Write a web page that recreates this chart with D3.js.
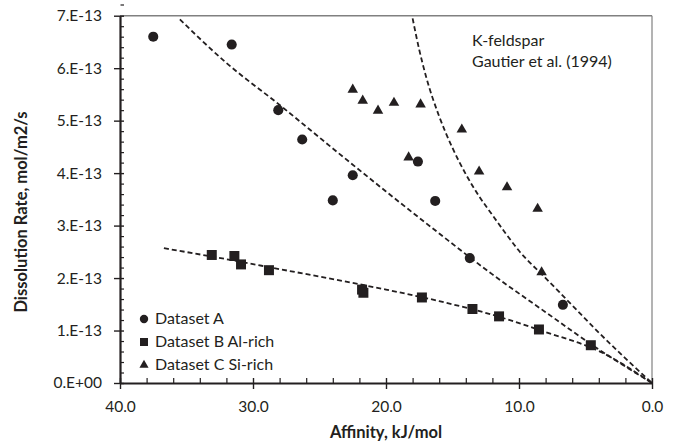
<!DOCTYPE html>
<html>
<head>
<meta charset="utf-8">
<script src="https://cdn.jsdelivr.net/npm/d3@7"></script>
<style>
  body { margin: 0; background: #fff; }
  svg { font-family: Lato, "Liberation Sans", sans-serif; }
</style>
</head>
<body>
<div id="plot"></div>
<script>
var w = 677,
    h = 447;

// Dataset A (circles)
var affA  = [37.5, 31.6, 28.1, 26.3, 24.0, 22.5, 17.6, 16.3, 13.7, 6.7];
var rateA = [6.60, 6.45, 5.20, 4.64, 3.48, 3.96, 4.22, 3.47, 2.38, 1.49];
// Dataset B Al-rich (squares)
var affB  = [33.1, 31.4, 30.9, 28.8, 21.8, 21.7, 17.3, 13.5, 11.5, 8.5, 4.6];
var rateB = [2.44, 2.42, 2.26, 2.15, 1.78, 1.72, 1.63, 1.41, 1.27, 1.02, 0.72];
// Dataset C Si-rich (triangles)
var affC  = [22.5, 21.75, 20.6, 19.4, 17.4, 14.3, 18.3, 13.0, 10.9, 8.6, 8.3];
var rateC = [5.59, 5.38, 5.19, 5.34, 5.31, 4.83, 4.30, 4.03, 3.73, 3.32, 2.11];

// fitted curves (dashed)
var fitAx = [35.5, 32, 28, 24, 20, 16, 12, 8, 4, 0];
var fitAy = [6.93, 6.10, 5.30, 4.47, 3.65, 2.85, 2.07, 1.35, 0.64, 0];
var fitBx = [36.7, 32, 28, 24, 20, 16, 12, 8, 4, 0];
var fitBy = [2.57, 2.36, 2.17, 1.98, 1.78, 1.56, 1.30, 0.97, 0.61, 0];
var fitCx = [18, 17.5, 17, 16, 15, 14, 13, 12, 11, 10, 8, 6, 4, 2, 0];
var fitCy = [6.95, 6.35, 5.85, 5.08, 4.48, 3.98, 3.56, 3.2, 2.85, 2.52, 2.0, 1.48, 0.96, 0.47, 0];

var unit = 1e-13;   // rates above are in units of 1e-13 mol/m2/s
var xTicks = [40, 30, 20, 10, 0];
var yTicks = [0, 1, 2, 3, 4, 5, 6, 7];
var legendLabels = ['Dataset A', 'Dataset B Al-rich', 'Dataset C Si-rich'];
var noteLines = ['K-feldspar', 'Gautier et al. (1994)'];

var ink = '#231f20';

var svg = d3.select('#plot').append('svg')
    .attr('width', w)
    .attr('height', h);

var x = d3.scaleLinear().domain([40, 0]).range([120, 652]);
var y = d3.scaleLinear().domain([0, 7 * unit]).range([383, 15.7]);

function zipPts(xs, ys) {
    return xs.map(function(d, i) { return {a: d, r: ys[i] * unit}; });
}

// top and right frame (gray)
svg.append('line')
    .attr('x1', x(40)).attr('x2', x(0))
    .attr('y1', y(7 * unit)).attr('y2', y(7 * unit))
    .style('stroke', '#808080').style('stroke-width', 1.6);
svg.append('line')
    .attr('x1', x(0)).attr('x2', x(0))
    .attr('y1', y(7 * unit)).attr('y2', y(0))
    .style('stroke', '#808080').style('stroke-width', 1.2);

// minor ticks
var yMinor = d3.range(0, 7.01, 0.2).filter(function(d) { return Math.abs(d - Math.round(d)) > 0.01; });
var xMinor = d3.range(0, 40.01, 2).filter(function(d) { return d % 10 !== 0; });

svg.append('g')
    .attr('transform', 'translate(' + x(40) + ',0)')
    .call(d3.axisLeft(y).tickValues(yMinor.map(function(d) { return d * unit; }))
        .tickSize(-4).tickSizeOuter(0).tickFormat(''))
    .call(function(g) { g.select('.domain').remove(); })
    .selectAll('line').style('stroke', ink).style('stroke-width', 1.2);

svg.append('g')
    .attr('transform', 'translate(0,' + y(0) + ')')
    .call(d3.axisBottom(x).tickValues(xMinor)
        .tickSize(-5).tickSizeOuter(0).tickFormat(''))
    .call(function(g) { g.select('.domain').remove(); })
    .selectAll('line').style('stroke', ink).style('stroke-width', 1.2);

// major axes
var yAxis = svg.append('g')
    .attr('transform', 'translate(' + x(40) + ',0)')
    .call(d3.axisLeft(y)
        .tickValues(yTicks.map(function(d) { return d * unit; }))
        .tickSize(6).tickSizeOuter(0).tickPadding(12)
        .tickFormat(function(d) {
            var v = Math.round(d / unit);
            return v === 0 ? '0.E+00' : v + '.E-13';
        }));
yAxis.selectAll('.tick line').attr('x1', 4);

var xAxis = svg.append('g')
    .attr('transform', 'translate(0,' + y(0) + ')')
    .call(d3.axisBottom(x)
        .tickValues(xTicks)
        .tickSize(6).tickSizeOuter(0).tickPadding(12)
        .tickFormat(d3.format('.1f')));
xAxis.selectAll('.tick line').attr('y1', -5);

[yAxis, xAxis].forEach(function(g) {
    g.select('.domain').style('stroke', ink).style('stroke-width', 2.2);
    g.selectAll('.tick line').style('stroke', ink).style('stroke-width', 1.4);
    g.selectAll('.tick text')
        .style('font-size', '15.5px')
        .style('font-family', 'Lato, sans-serif')
        .style('fill', '#231f20');
});

// stray dash mark above the axis
svg.append('line')
    .attr('x1', 120.5).attr('x2', 124)
    .attr('y1', 5).attr('y2', 5)
    .style('stroke', ink)
    .style('stroke-width', 1.2);

// axis titles
svg.append('text')
    .attr('x', (x(40) + x(0)) / 2)
    .attr('y', 438)
    .attr('text-anchor', 'middle')
    .style('font-size', '16.5px')
    .style('font-weight', 'bold')
    .style('fill', ink)
    .text('Affinity, kJ/mol');

svg.append('text')
    .attr('transform', 'translate(27,212) rotate(-90)')
    .attr('text-anchor', 'middle')
    .style('font-size', '16.5px')
    .style('font-weight', 'bold')
    .style('fill', ink)
    .text('Dissolution Rate, mol/m2/s');

// dashed fit curves
var line = d3.line()
    .x(function(d) { return x(d.a); })
    .y(function(d) { return y(d.r); })
    .curve(d3.curveMonotoneX);

[[fitAx, fitAy], [fitBx, fitBy], [fitCx, fitCy]].forEach(function(f) {
    svg.append('path')
        .datum(zipPts(f[0], f[1]))
        .attr('d', line)
        .style('fill', 'none')
        .style('stroke', ink)
        .style('stroke-width', 1.8)
        .style('stroke-dasharray', '5,3');
});

// markers
var circ = d3.symbol().type(d3.symbolCircle).size(80);
var sq = d3.symbol().type(d3.symbolSquare).size(100);
var tri = d3.symbol().type(d3.symbolTriangle).size(48);

function drawSet(pts, sym) {
    svg.append('g').selectAll('path')
        .data(pts)
        .enter()
        .append('path')
        .attr('transform', function(d) { return 'translate(' + x(d.a) + ',' + y(d.r) + ')'; })
        .attr('d', sym)
        .style('fill', ink);
}
drawSet(zipPts(affA, rateA), circ);
drawSet(zipPts(affB, rateB), sq);
drawSet(zipPts(affC, rateC), tri);

// legend
var legSyms = [
    d3.symbol().type(d3.symbolCircle).size(55),
    d3.symbol().type(d3.symbolSquare).size(64),
    d3.symbol().type(d3.symbolTriangle).size(36)
];
var leg = svg.append('g').attr('class', 'legend');
legendLabels.forEach(function(lab, i) {
    var yy = 324 + i * 23;
    leg.append('path')
        .attr('transform', 'translate(144,' + (yy - 5) + ')')
        .attr('d', legSyms[i])
        .style('fill', ink);
    leg.append('text')
        .attr('x', 155).attr('y', yy)
        .style('font-size', '16px')
        .style('fill', ink)
        .text(lab);
});

// note
noteLines.forEach(function(t, i) {
    svg.append('text')
        .attr('x', 472).attr('y', 46 + i * 21)
        .style('font-size', '16px')
        .style('fill', ink)
        .text(t);
});
</script>
</body>
</html>
